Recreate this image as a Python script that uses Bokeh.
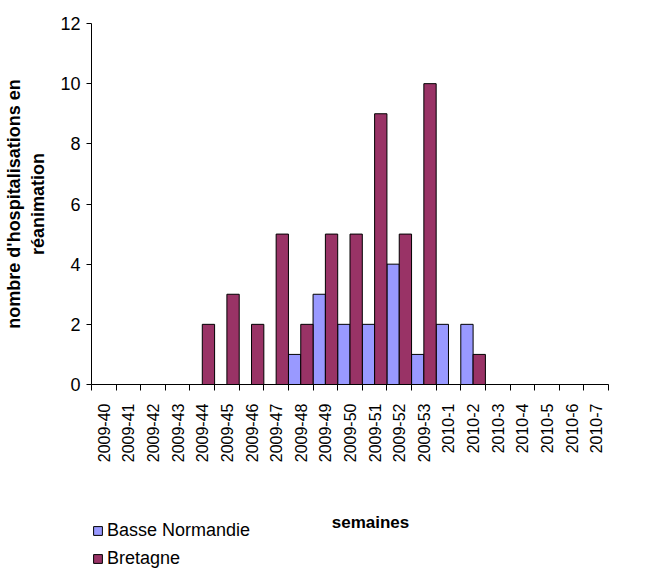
import math
from bokeh.plotting import figure
from bokeh.layouts import column
from bokeh.models import (Range1d, LinearAxis, FixedTicker, Legend, LegendItem,
                          ColumnDataSource, Label)
from bokeh.embed import file_html
from bokeh.resources import INLINE

weeks = ["2009-40", "2009-41", "2009-42", "2009-43", "2009-44", "2009-45", "2009-46",
         "2009-47", "2009-48", "2009-49", "2009-50", "2009-51", "2009-52", "2009-53",
         "2010-1", "2010-2", "2010-3", "2010-4", "2010-5", "2010-6", "2010-7"]
basse_normandie = [0, 0, 0, 0, 0, 0, 0, 0, 1, 3, 2, 2, 4, 1, 2, 2, 0, 0, 0, 0, 0]
bretagne = [0, 0, 0, 0, 2, 3, 2, 5, 2, 5, 5, 9, 5, 10, 0, 1, 0, 0, 0, 0, 0]
y_ticks = [0, 2, 4, 6, 8, 10, 12]
series_names = ["Basse Normandie", "Bretagne"]
series_colors = ["#9999FF", "#993366"]

FONT = "Liberation Sans"

n = len(weeks)
idx = list(range(n))
src = ColumnDataSource(dict(x_bn=[i + 0.25 for i in idx], x_br=[i + 0.75 for i in idx],
                            bn=basse_normandie, br=bretagne))

p = figure(x_range=Range1d(0, n), y_range=Range1d(0, 12),
           width=640, height=504, output_backend="svg", toolbar_location=None,
           x_axis_location=None, min_border_left=91, min_border_top=23,
           min_border_right=32, min_border_bottom=120)
p.outline_line_color = None
p.xgrid.grid_line_color = None
p.ygrid.grid_line_color = None

p.vbar(x="x_bn", top="bn", width=0.5, source=src,
       fill_color=series_colors[0], line_color="black", line_width=1)
p.vbar(x="x_br", top="br", width=0.5, source=src,
       fill_color=series_colors[1], line_color="black", line_width=1)

# y axis
ya = p.yaxis[0]
ya.ticker = FixedTicker(ticks=y_ticks)
ya.minor_tick_line_color = None
ya.major_tick_in = 0
ya.major_tick_out = 5
ya.axis_line_color = "black"
ya.major_tick_line_color = "black"
ya.major_label_text_font = FONT
ya.major_label_text_font_size = "18px"
ya.major_label_text_color = "black"
ya.major_label_standoff = 6
ya.axis_label = "nombre d'hospitalisations en\nréanimation"
ya.axis_label_text_font = FONT
ya.axis_label_text_font_style = "bold"
ya.axis_label_text_font_size = "18px"
ya.axis_label_text_color = "black"
ya.axis_label_standoff = 9

# x axis: labels at category centres, tick marks at category boundaries
centers = [i + 0.5 for i in idx]
bounds = list(range(n + 1))
xa = LinearAxis(ticker=FixedTicker(ticks=centers, minor_ticks=bounds),
                major_label_overrides={c: w for c, w in zip(centers, weeks)},
                major_tick_line_color=None, major_tick_in=0, major_tick_out=0,
                minor_tick_line_color="black", minor_tick_in=0, minor_tick_out=6,
                axis_line_color="black",
                major_label_orientation=math.pi / 2,
                major_label_text_font=FONT,
                major_label_text_font_size="16px",
                major_label_text_color="black",
                major_label_standoff=13)
p.add_layout(xa, "below")

# legend + x axis title strip (its frame is aligned with the chart's frame)
q = figure(x_range=Range1d(0, 1), y_range=Range1d(0, 1),
           width=640, height=67, output_backend="svg", toolbar_location=None,
           x_axis_location=None, y_axis_location=None,
           min_border_left=0, min_border_right=0, min_border_top=0, min_border_bottom=0)
q.outline_line_color = None
q.xgrid.grid_line_color = None
q.ygrid.grid_line_color = None
items = []
for name, color in zip(series_names, series_colors):
    swatch = ColumnDataSource(dict(x=[float("nan")], top=[float("nan")]))
    r = q.vbar(x="x", top="top", width=0.5, source=swatch,
               fill_color=color, line_color="black", line_width=1)
    items.append(LegendItem(label=name, renderers=[r]))

legend = Legend(items=items, location=(1, 2), orientation="vertical",
                border_line_color=None, background_fill_alpha=0,
                label_text_font=FONT, label_text_font_size="18px",
                label_text_color="black",
                glyph_width=11, glyph_height=11, label_standoff=4,
                label_height=22, spacing=6, padding=3, margin=0)
q.add_layout(legend, "center")

q.add_layout(Label(x=279, y=49, x_units="screen", y_units="screen", text="semaines",
                   text_align="center", text_baseline="middle",
                   text_font=FONT, text_font_style="bold", text_font_size="17px",
                   text_color="black"))

layout = column(p, q, spacing=0)
open("out.html", "w").write(file_html(layout, INLINE))
